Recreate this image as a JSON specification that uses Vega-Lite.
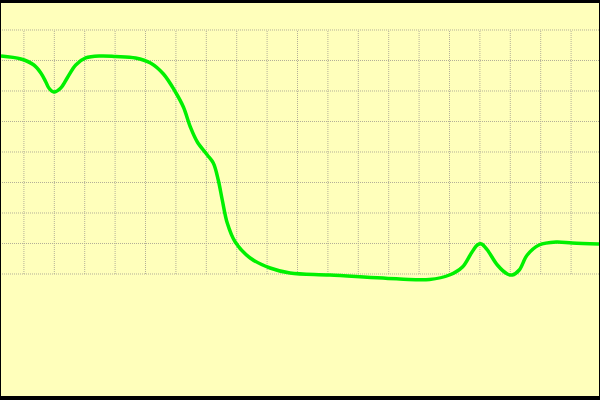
{
  "$schema": "https://vega.github.io/schema/vega-lite/v6.json",
  "width": 600,
  "height": 400,
  "autosize": {"type": "fit", "contains": "padding"},
  "padding": {"top": 3, "bottom": 4, "left": 0, "right": 0},
  "background": "#000000",
  "config": {"view": {"fill": "#ffffbb", "stroke": null}},
  "datasets": {
    "hgrid": [{"v": 0}, {"v": 1}, {"v": 2}, {"v": 3}, {"v": 4}, {"v": 5}, {"v": 6}, {"v": 7}, {"v": 8}],
    "vgrid": [
      {"v": 0, "lo": 0, "hi": 8}, {"v": 1, "lo": 0, "hi": 8}, {"v": 2, "lo": 0, "hi": 8}, {"v": 3, "lo": 0, "hi": 8},
      {"v": 4, "lo": 0, "hi": 8}, {"v": 5, "lo": 0, "hi": 8}, {"v": 6, "lo": 0, "hi": 8}, {"v": 7, "lo": 0, "hi": 8},
      {"v": 8, "lo": 0, "hi": 8}, {"v": 9, "lo": 0, "hi": 8}, {"v": 10, "lo": 0, "hi": 8}, {"v": 11, "lo": 0, "hi": 8},
      {"v": 12, "lo": 0, "hi": 8}, {"v": 13, "lo": 0, "hi": 8}, {"v": 14, "lo": 0, "hi": 8}, {"v": 15, "lo": 0, "hi": 8},
      {"v": 16, "lo": 0, "hi": 8}, {"v": 17, "lo": 0, "hi": 8}, {"v": 18, "lo": 0, "hi": 8}
    ],
    "curve": [
      {"x": -0.754, "y": 7.148}, {"x": -0.098, "y": 7.049}, {"x": 0.328, "y": 6.852}, {"x": 0.557, "y": 6.59},
      {"x": 0.721, "y": 6.295}, {"x": 0.82, "y": 6.098}, {"x": 0.984, "y": 5.967}, {"x": 1.213, "y": 6.098},
      {"x": 1.443, "y": 6.459}, {"x": 1.705, "y": 6.852}, {"x": 2.033, "y": 7.082}, {"x": 2.525, "y": 7.148},
      {"x": 3.016, "y": 7.131}, {"x": 3.672, "y": 7.082},
      {"x": 4.164, "y": 6.918}, {"x": 4.59, "y": 6.557}, {"x": 4.984, "y": 5.967}, {"x": 5.246, "y": 5.475},
      {"x": 5.475, "y": 4.82}, {"x": 5.705, "y": 4.328}, {"x": 6.033, "y": 3.902}, {"x": 6.23, "y": 3.639},
      {"x": 6.393, "y": 3.082}, {"x": 6.525, "y": 2.426}, {"x": 6.689, "y": 1.672}, {"x": 6.951, "y": 1.049},
      {"x": 7.443, "y": 0.525}, {"x": 8.098, "y": 0.197}, {"x": 8.754, "y": 0.033}, {"x": 10.066, "y": -0.033},
      {"x": 12.361, "y": -0.164}, {"x": 13.344, "y": -0.18}, {"x": 14.0, "y": -0.033}, {"x": 14.426, "y": 0.23},
      {"x": 14.721, "y": 0.689}, {"x": 14.918, "y": 0.951}, {"x": 15.049, "y": 0.984}, {"x": 15.246, "y": 0.787},
      {"x": 15.574, "y": 0.295}, {"x": 15.902, "y": 0.0}, {"x": 16.066, "y": -0.033}, {"x": 16.295, "y": 0.131},
      {"x": 16.557, "y": 0.623}, {"x": 16.951, "y": 0.951}, {"x": 17.508, "y": 1.049}, {"x": 18.033, "y": 1.016},
      {"x": 18.918, "y": 0.984}
    ]
  },
  "layer": [
    {
      "data": {"name": "hgrid"},
      "mark": {"type": "rule", "color": "#b3af98", "strokeWidth": 1, "strokeDash": [1, 1]},
      "encoding": {
        "y": {"field": "v", "type": "quantitative", "scale": {"domain": [-4, 8.885], "nice": false, "zero": false}, "axis": null}
      }
    },
    {
      "data": {"name": "vgrid"},
      "mark": {"type": "rule", "color": "#b3af98", "strokeWidth": 1, "strokeDash": [1, 1]},
      "encoding": {
        "x": {"field": "v", "type": "quantitative", "scale": {"domain": [-0.754, 18.918], "nice": false, "zero": false}, "axis": null},
        "y": {"field": "lo", "type": "quantitative", "axis": null},
        "y2": {"field": "hi"}
      }
    },
    {
      "data": {"name": "curve"},
      "mark": {"type": "line", "color": "#00f000", "strokeWidth": 3.5, "interpolate": "catmull-rom", "clip": true},
      "encoding": {
        "x": {"field": "x", "type": "quantitative", "axis": null},
        "y": {"field": "y", "type": "quantitative", "axis": null}
      }
    }
  ]
}
